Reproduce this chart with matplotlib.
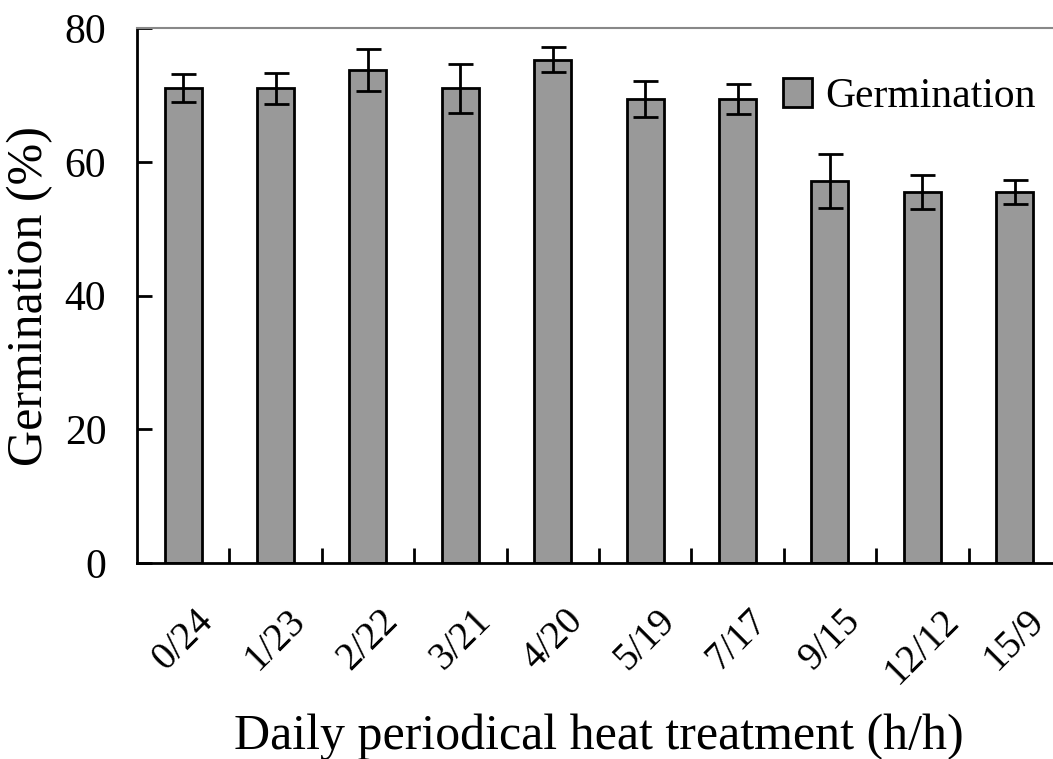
import matplotlib
matplotlib.use("Agg")
import matplotlib.pyplot as plt
import numpy as np

# data
treatments = ["0/24", "1/23", "2/22", "3/21", "4/20", "5/19", "7/17", "9/15", "12/12", "15/9"]
germination = [71.0, 71.0, 73.7, 71.0, 75.3, 69.4, 69.4, 57.1, 55.5, 55.5]
germ_err = [2.1, 2.3, 3.1, 3.7, 1.9, 2.7, 2.3, 4.0, 2.6, 1.8]

SERIF = "Liberation Serif"

fig = plt.figure(figsize=(10.53, 7.59), dpi=100)
ax = fig.add_axes([0.130, 0.258, 0.8776, 0.705])

x = np.arange(len(treatments))
ax.bar(x, germination, 0.4, color="#999999", edgecolor="black", linewidth=2.0,
       label="Germination", zorder=2)
ax.errorbar(x, germination, yerr=germ_err, fmt="none", ecolor="black",
            elinewidth=2.0, capsize=9, capthick=2.0, zorder=3)

ax.set_xlim(-0.5, len(treatments) - 0.5)
ax.set_ylim(0, 80)
ax.set_yticks([0, 20, 40, 60, 80])
ax.set_yticklabels(["0", "20", "40", "60", "80"], fontsize=30, fontfamily=SERIF)

# ticks sit between categories, labels at the centres
ax.set_xticks(x[:-1] + 0.5)
ax.set_xticklabels([])
ax.set_xticks(x, minor=True)
ax.set_xticklabels(treatments, minor=True, rotation=45, ha="center",
                   fontsize=28, fontfamily=SERIF)
ax.tick_params(axis="x", which="minor", length=0, pad=28)
ax.tick_params(axis="x", which="major", direction="in", length=11, width=2)
ax.tick_params(axis="y", direction="in", length=11, width=2, pad=22)

for side in ["left", "bottom"]:
    ax.spines[side].set_linewidth(2)
ax.spines["top"].set_color("#888888")
ax.spines["top"].set_linewidth(1.5)
ax.spines["right"].set_visible(False)

ax.set_ylabel("Germination (%)", fontsize=36, fontfamily=SERIF, labelpad=8)
ax.set_xlabel("Daily periodical heat treatment (h/h)", fontsize=36,
              fontfamily=SERIF, labelpad=16)

fig.legend(loc="center left", bbox_to_anchor=(0.724, 0.872), frameon=False,
           prop={"family": SERIF, "size": 30}, handlelength=0.7,
           handleheight=0.7, handletextpad=0.3, borderpad=0)

fig.savefig("out.png", dpi=100, facecolor="white")
